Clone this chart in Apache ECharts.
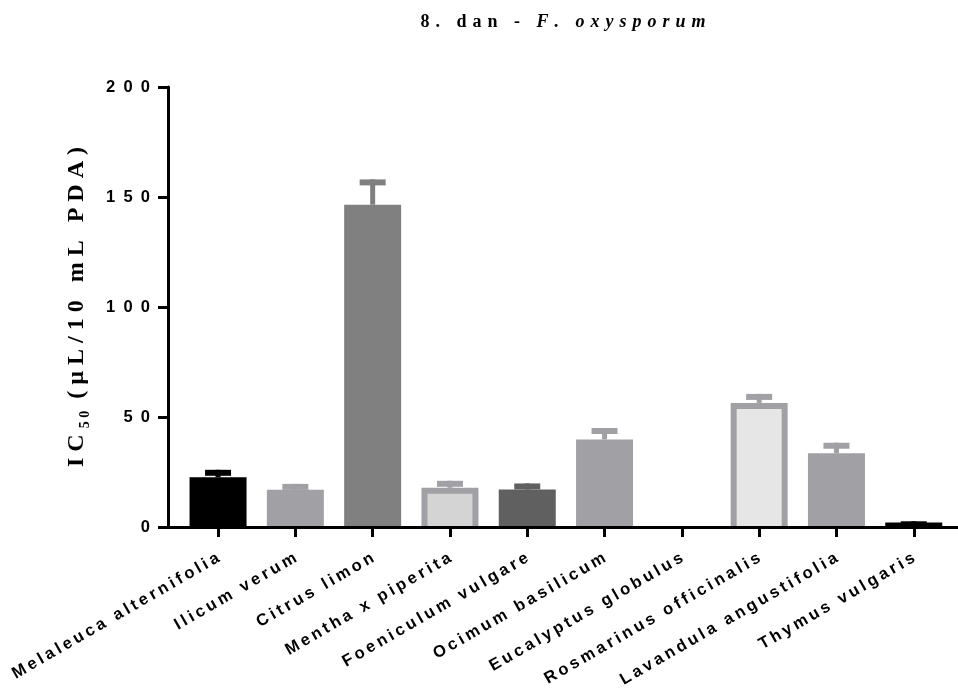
<!DOCTYPE html>
<html><head><meta charset="utf-8">
<script src="https://cdn.jsdelivr.net/npm/echarts@6/dist/echarts.min.js"></script>
<style>html,body{margin:0;padding:0;background:#fff}#c{width:958px;height:688px}</style>
</head><body><div id="c"></div>
<script>
// ---- data ----
const categories = ['Melaleuca alternifolia','Ilicum verum','Citrus limon','Mentha x piperita','Foeniculum vulgare','Ocimum basilicum','Eucalyptus globulus','Rosmarinus officinalis','Lavandula angustifolia','Thymus vulgaris'];
const means  = [22.6, 16.9, 146.5, 17.8, 17.0, 39.8, 0, 56.4, 33.5, 2.0];
const errors = [3.4, 2.7, 11.5, 3.2, 2.8, 5.2, 0, 4.1, 4.8, 0.6];
const yMin = 0, yMax = 200, yStep = 50;
const titleMain = '8. dan - ';
const titleSpecies = 'F. oxysporum';

// ---- styles ----
const edgeColors  = ['#000000','#a1a0a5','#808080','#a1a0a5','#606060','#a1a0a5','#a1a0a5','#a1a0a5','#a1a0a5','#000000'];
const innerColors = [null, null, null, '#d4d4d4', null, null, null, '#e6e6e6', null, null];

const sp = (s, g) => s.split('').join(g);
const SANS = 'Liberation Sans, Arial, sans-serif';
const SERIF = 'Liberation Serif, Times New Roman, serif';

const barData = means.map((v, i) => ({ value: v, itemStyle: { color: edgeColors[i] } }));
const innerData = means.map((v, i) => [i, v]);
const errData = means.map((v, i) => [i, v, errors[i]]);

const chart = echarts.init(document.getElementById('c'), null, { renderer: 'canvas' });
chart.setOption({
  animation: false,
  backgroundColor: '#ffffff',
  graphic: [{
    type: 'text', x: 563, y: 22,
    style: {
      text: '{a|' + sp(titleMain, '\u2004') + '\u2004}{b|' + sp(titleSpecies, '\u2004') + '}',
      align: 'center', verticalAlign: 'middle',
      rich: {
        a: { fontFamily: SERIF, fontWeight: 'bold', fontSize: 18, fill: '#000' },
        b: { fontFamily: SERIF, fontWeight: 'bold', fontStyle: 'italic', fontSize: 18, fill: '#000' }
      }
    }
  }],
  grid: [
    { left: 168, right: 0, top: 87, bottom: 161, outerBoundsMode: 'none', containLabel: false },
    { left: 179.4, right: 5.6, top: 87, bottom: 161, outerBoundsMode: 'none', containLabel: false }
  ],
  xAxis: [
    { gridIndex: 0, type: 'value', min: 0, max: 1, z: 10,
      axisLine: { show: true, lineStyle: { color: '#000', width: 3 } },
      axisTick: { show: false }, axisLabel: { show: false }, splitLine: { show: false } },
    { gridIndex: 1, type: 'category', data: categories, z: 10,
      axisLine: { show: false },
      axisTick: { show: true, alignWithLabel: true, length: 10, lineStyle: { color: '#000', width: 3 } },
      axisLabel: {
        rotate: 30, margin: 30, color: '#000', fontFamily: SANS, fontWeight: 'bold', fontSize: 16.5,
        interval: 0, hideOverlap: false, formatter: v => sp(v, '\u2009')
      },
      splitLine: { show: false } }
  ],
  yAxis: [
    { gridIndex: 0, type: 'value', min: yMin, max: yMax, interval: yStep,
      axisLine: { show: true, lineStyle: { color: '#000', width: 3 } },
      axisTick: { show: true, length: 10, lineStyle: { color: '#000', width: 3 } },
      axisLabel: { margin: 18, color: '#000', fontFamily: SANS, fontWeight: 'bold', fontSize: 16.5,
        formatter: v => sp(String(v), '\u2002') },
      splitLine: { show: false },
      name: '{a|' + sp('IC', '\u2005') + '\u2005}{b|' + sp('50', '\u2005') + '}{a|\u2005\u2005' + sp('(µL/10 mL PDA)', '\u2005') + '}',
      nameLocation: 'middle', nameRotate: 90, nameGap: 76,
      nameTextStyle: {
        rich: {
          a: { fontFamily: SERIF, fontWeight: 'bold', fontSize: 24, color: '#000', lineHeight: 30, verticalAlign: 'middle' },
          b: { fontFamily: SERIF, fontWeight: 'bold', fontSize: 14, color: '#000', lineHeight: 14, verticalAlign: 'bottom' }
        }
      } },
    { gridIndex: 1, type: 'value', min: yMin, max: yMax, interval: yStep, show: false }
  ],
  series: [
    { type: 'bar', xAxisIndex: 1, yAxisIndex: 1, data: barData, barWidth: 57, z: 2 },
    { type: 'custom', xAxisIndex: 1, yAxisIndex: 1, data: innerData, z: 3,
      renderItem: function (params, api) {
        const fill = innerColors[params.dataIndex];
        if (!fill) return null;
        const top = api.coord([api.value(0), api.value(1)]);
        const base = api.coord([api.value(0), 0]);
        return { type: 'rect', shape: { x: top[0] - 22.5, y: top[1] + 6, width: 45, height: base[1] - top[1] - 6 }, style: { fill: fill } };
      } },
    { type: 'custom', xAxisIndex: 1, yAxisIndex: 1, data: errData, z: 3,
      renderItem: function (params, api) {
        const i = api.value(0), m = api.value(1), e = api.value(2);
        if (!e) return null;
        const base = api.coord([i, m]);
        const top = api.coord([i, m + e]);
        const col = edgeColors[params.dataIndex];
        return { type: 'group', children: [
          { type: 'rect', shape: { x: base[0] - 2.5, y: top[1], width: 5, height: base[1] - top[1] }, style: { fill: col } },
          { type: 'rect', shape: { x: base[0] - 13, y: top[1], width: 26, height: 6 }, style: { fill: col } }
        ] };
      } }
  ]
});
</script></body></html>
